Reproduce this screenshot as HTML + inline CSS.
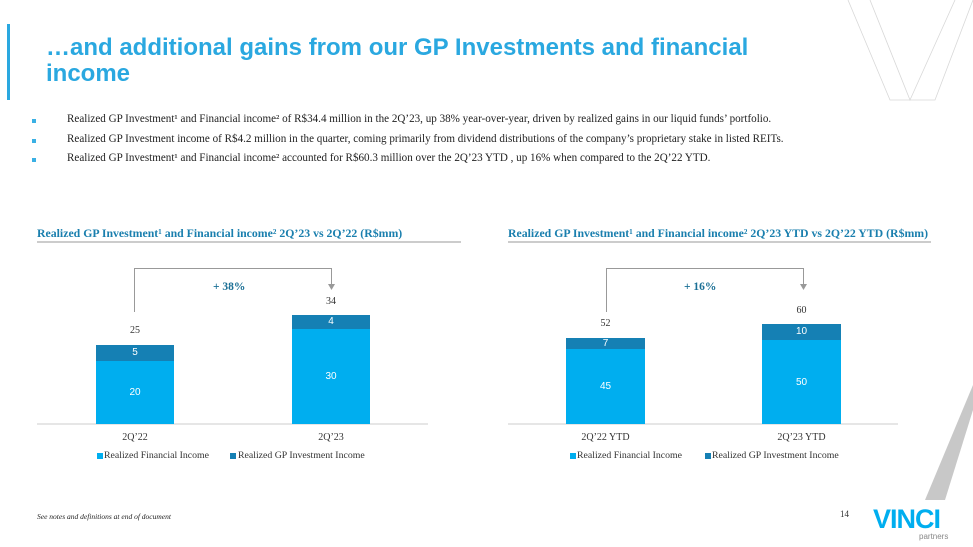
<!DOCTYPE html>
<html><head><meta charset="utf-8"><style>
body{margin:0;width:973px;height:547px;position:relative;overflow:hidden;background:#fff;font-family:"Liberation Serif",serif}
.a{position:absolute;white-space:nowrap}
.t{font-family:"Liberation Sans",sans-serif;font-weight:bold;color:#2aa8e0;font-size:24px;line-height:26px}
.b{font-size:11.1px;color:#222}
.sq{position:absolute;width:4px;height:4px;background:#3ab0e4}
.ct{font-weight:bold;color:#1a7fae;font-size:11.8px}
.n{font-family:"Liberation Sans",sans-serif;font-size:10px;color:#fff;text-align:center}
.k{font-size:10px;color:#333;text-align:center}
.lg{font-size:9.8px;color:#333}
</style></head><body>
<svg class="a" style="left:0;top:0" width="973" height="547">
<rect x="7" y="24" width="3" height="76" fill="#2aa8e0"/>
<g stroke="#d8d8d8" stroke-width="0.8" fill="none">
<polyline points="848,0 890,100 935,100 973,0"/>
<polyline points="870,0 910,100 955,0"/>
</g>
<polygon points="973,385 973,410 945,500 925,500" fill="#c8c8c8"/>
<line x1="37" y1="242" x2="461" y2="242" stroke="#999" stroke-width="1"/>
<line x1="37" y1="424" x2="428" y2="424" stroke="#ccc" stroke-width="1"/>
<rect x="96" y="345" width="78" height="16" fill="#1580b4"/>
<rect x="96" y="361" width="78" height="63" fill="#00aeef"/>
<rect x="292" y="315" width="78" height="14" fill="#1580b4"/>
<rect x="292" y="329" width="78" height="95" fill="#00aeef"/>
<polyline points="134.5,312 134.5,268.5 331.5,268.5 331.5,286" fill="none" stroke="#999" stroke-width="1"/>
<polygon points="328,284 335,284 331.5,290" fill="#999"/>
<line x1="508" y1="242" x2="931" y2="242" stroke="#999" stroke-width="1"/>
<line x1="508" y1="424" x2="898" y2="424" stroke="#ccc" stroke-width="1"/>
<rect x="566" y="338" width="79" height="11" fill="#1580b4"/>
<rect x="566" y="349" width="79" height="75" fill="#00aeef"/>
<rect x="762" y="324" width="79" height="16" fill="#1580b4"/>
<rect x="762" y="340" width="79" height="84" fill="#00aeef"/>
<polyline points="606.5,312 606.5,268.5 803.5,268.5 803.5,286" fill="none" stroke="#999" stroke-width="1"/>
<polygon points="800,284 807,284 803.5,290" fill="#999"/>
<text x="873" y="528" font-family="Liberation Sans,sans-serif" font-weight="bold" font-size="27" fill="#00aeef" letter-spacing="-1">VINCI</text>
<text x="919" y="539" font-family="Liberation Sans,sans-serif" font-size="8" fill="#888">partners</text>
</svg>
<div class="a t" style="left:46px;top:35px">…and additional gains from our GP Investments and financial<br>income</div>
<div class="sq" style="left:32px;top:119px"></div><div class="a b" style="left:67px;top:113px">Realized GP Investment¹ and Financial income² of R$34.4 million in the 2Q’23, up 38% year-over-year, driven by realized gains in our liquid funds’ portfolio.</div>
<div class="sq" style="left:32px;top:139px"></div><div class="a b" style="left:67px;top:133px">Realized GP Investment income of R$4.2 million in the quarter, coming primarily from dividend distributions of the company’s proprietary stake in listed REITs.</div>
<div class="sq" style="left:32px;top:158px"></div><div class="a b" style="left:67px;top:152px">Realized GP Investment¹ and Financial income² accounted for R$60.3 million over the 2Q’23 YTD , up 16% when compared to the 2Q’22 YTD.</div>

<div class="a ct" style="left:37px;top:226px">Realized GP Investment¹ and Financial income² 2Q’23 vs 2Q’22 (R$mm)</div>
<div class="a ct" style="left:508px;top:226px">Realized GP Investment¹ and Financial income² 2Q’23 YTD vs 2Q’22 YTD (R$mm)</div>

<div class="a n" style="left:96px;width:78px;top:347px">5</div>
<div class="a n" style="left:96px;width:78px;top:387px">20</div>
<div class="a n" style="left:292px;width:78px;top:316px">4</div>
<div class="a n" style="left:292px;width:78px;top:371px">30</div>
<div class="a k" style="left:96px;width:78px;top:325px">25</div>
<div class="a k" style="left:292px;width:78px;top:296px">34</div>
<div class="a" style="left:213px;top:281px;font-size:11.5px;color:#1a6f95;font-weight:bold">+ 38%</div>
<div class="a k" style="left:96px;width:78px;top:432px">2Q’22</div>
<div class="a k" style="left:292px;width:78px;top:432px">2Q’23</div>
<div class="sq" style="left:97px;top:453px;width:6px;height:6px;background:#00aeef"></div><div class="a lg" style="left:104px;top:450px">Realized Financial Income</div>
<div class="sq" style="left:230px;top:453px;width:6px;height:6px;background:#1580b4"></div><div class="a lg" style="left:238px;top:450px">Realized GP Investment Income</div>

<div class="a n" style="left:566px;width:79px;top:338px">7</div>
<div class="a n" style="left:566px;width:79px;top:381px">45</div>
<div class="a n" style="left:762px;width:79px;top:326px">10</div>
<div class="a n" style="left:762px;width:79px;top:377px">50</div>
<div class="a k" style="left:566px;width:79px;top:318px">52</div>
<div class="a k" style="left:762px;width:79px;top:305px">60</div>
<div class="a" style="left:684px;top:281px;font-size:11.5px;color:#1a6f95;font-weight:bold">+ 16%</div>
<div class="a k" style="left:556px;width:99px;top:432px">2Q’22 YTD</div>
<div class="a k" style="left:752px;width:99px;top:432px">2Q’23 YTD</div>
<div class="sq" style="left:570px;top:453px;width:6px;height:6px;background:#00aeef"></div><div class="a lg" style="left:577px;top:450px">Realized Financial Income</div>
<div class="sq" style="left:705px;top:453px;width:6px;height:6px;background:#1580b4"></div><div class="a lg" style="left:712px;top:450px">Realized GP Investment Income</div>

<div class="a" style="left:37px;top:512px;font-size:7.5px;font-style:italic;color:#222">See notes and definitions at end of document</div>
<div class="a" style="left:840px;top:509px;font-size:9px;color:#333">14</div>
</body></html>
